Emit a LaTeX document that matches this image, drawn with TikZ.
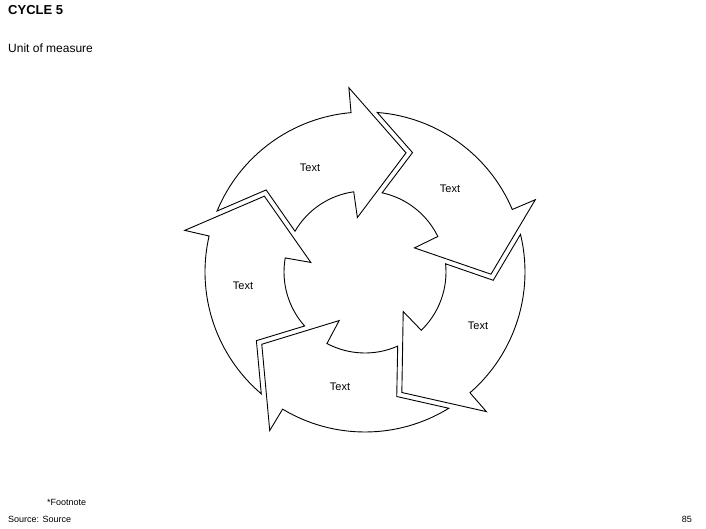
\documentclass[tikz,border=0pt]{standalone}
\usepackage{fontspec}
\setmainfont{Liberation Sans}
\begin{document}
\begin{tikzpicture}[x=1pt,y=1pt,
  arr/.style={draw=black,fill=white,line width=0.9pt,line join=miter},
  lbl/.style={font=\fontsize{11}{13}\selectfont,inner sep=0pt}]
\useasboundingbox (0,-529) rectangle (706,0);
\node[anchor=north west,inner sep=0pt,font=\fontsize{13}{15}\selectfont\bfseries] (title) at (8,-5) {CYCLE 5};
\node[anchor=north west,inner sep=0pt,font=\fontsize{12}{14}\selectfont] (unit) at (8,-44) {Unit of measure};
\begin{scope}[shift={(365,-272)}]
\foreach \k in {0,...,4}{
  \begin{scope}[rotate=-72*\k]
  \draw[arr] (95:160) -- (95:185) -- (71:126) -- (98:55) -- (98:81)
    arc[start angle=98,end angle=149.8,radius=81] -- (140.3:128.5) -- (157.6:160)
    arc[start angle=157.6,end angle=95,radius=160] -- cycle;
  \end{scope}
}
\end{scope}
\node[lbl] (t1) at (310,-168) {Text};
\node[lbl] (t2) at (450,-189) {Text};
\node[lbl] (t3) at (243,-286) {Text};
\node[lbl] (t4) at (478,-326) {Text};
\node[lbl] (t5) at (340,-387) {Text};
\node[anchor=west,inner sep=0pt,font=\fontsize{9}{11}\selectfont] (fn) at (47,-502) {*Footnote};
\node[anchor=west,inner sep=0pt,font=\fontsize{9}{11}\selectfont] (src) at (8,-519) {Source: Source};
\node[anchor=east,inner sep=0pt,font=\fontsize{9}{11}\selectfont] (pg) at (692,-519) {85};
\end{tikzpicture}
\end{document}
